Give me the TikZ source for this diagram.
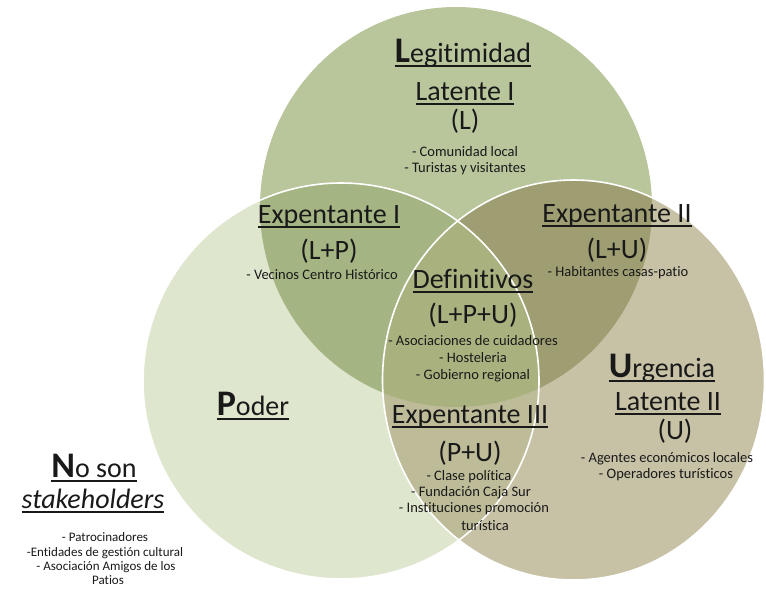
\documentclass[tikz,border=0pt]{standalone}
\usepackage{fontspec}
\setmainfont{Carlito}[Ligatures={NoCommon}]
\newsavebox\ulbox
\newcommand\myul[1]{\sbox\ulbox{#1}\rlap{\rule[-5pt]{\wd\ulbox}{1.8pt}}\usebox\ulbox}
\definecolor{Lcol}{RGB}{185,198,156}
\definecolor{Pcol}{RGB}{223,230,206}
\definecolor{Ucol}{RGB}{199,193,166}
\definecolor{LPcol}{RGB}{164,181,131}
\definecolor{LUcol}{RGB}{158,158,114}
\definecolor{PUcol}{RGB}{190,188,152}
\definecolor{LPUcol}{RGB}{169,178,127}
\definecolor{txt}{RGB}{25,25,25}
\tikzset{
  ttl/.style={anchor=base,inner sep=0pt,text=txt,font=\fontsize{28}{30}\selectfont},
  itm/.style={anchor=base,inner sep=0pt,text=txt,font=\fontsize{14.5}{16}\selectfont},
  itms/.style={anchor=base,inner sep=0pt,text=txt,font=\fontsize{13}{15}\selectfont},
}
\newcommand\bigini[1]{{\fontsize{36}{38}\selectfont\bfseries #1}}
\begin{document}
\begin{tikzpicture}[x=1pt,y=-1pt]
\useasboundingbox (0,0) rectangle (766,590);
\def\Lc{(456,207) ellipse[x radius=196pt,y radius=200pt]}
\def\Pc{(341,381) circle[radius=198pt]}
\def\Uc{(573.5,380) ellipse[x radius=191pt,y radius=200pt]}
\fill[Lcol] \Lc;
\fill[Pcol] \Pc;
\fill[Ucol] \Uc;
\begin{scope}\clip \Lc; \fill[LPcol] \Pc; \end{scope}
\begin{scope}\clip \Lc; \fill[LUcol] \Uc; \end{scope}
\begin{scope}\clip \Pc; \fill[PUcol] \Uc; \end{scope}
\begin{scope}\clip \Lc; \clip \Pc; \fill[LPUcol] \Uc; \end{scope}
\draw[white,line width=1.6pt] \Pc;
\draw[white,line width=1.6pt] \Uc;
% Legitimidad
\node[ttl] (leg) at (463,62) {\myul{\bigini{L}egitimidad}};
\node[ttl] (lat1) at (465,100) {\myul{Latente I}};
\node[ttl] (l) at (465,129) {(L)};
\node[itm] (l1) at (465,156.5) {- Comunidad local};
\node[itm] (l2) at (465,172.5) {- Turistas y visitantes};
% Expentante I
\node[ttl] (e1) at (329,223) {\myul{Expentante I}};
\node[ttl] (lp) at (329,259) {(L+P)};
\node[itm] (lp1) at (322,279.5) {- Vecinos Centro Histórico};
% Expentante II
\node[ttl] (e2) at (617,222) {\myul{Expentante II}};
\node[ttl] (lu) at (617,258) {(L+U)};
\node[itm] (lu1) at (618,276.5) {- Habitantes casas-patio};
% Definitivos
\node[ttl] (def) at (473,288) {\myul{Definitivos}};
\node[ttl] (lpu) at (473,323) {(L+P+U)};
\node[itm] (d1) at (473,345.5) {- Asociaciones de cuidadores};
\node[itm] (d2) at (473,362.5) {- Hosteleria};
\node[itm] (d3) at (473,379.5) {- Gobierno regional};
% Expentante III
\node[ttl] (e3) at (470,423) {\myul{Expentante III}};
\node[ttl] (pu) at (470,461) {(P+U)};
\node[itm] (p1) at (469,480.5) {- Clase política};
\node[itm] (p2) at (471,496.5) {- Fundación Caja Sur};
\node[itm] (p3) at (474,512.5) {- Instituciones promoción};
\node[itm] (p4) at (485,530.5) {turística};
% Urgencia
\node[ttl] (urg) at (662,377) {\myul{\bigini{U}rgencia}};
\node[ttl] (lat2) at (668,410) {\myul{Latente II}};
\node[ttl] (u) at (675,439) {(U)};
\node[itm] (u1) at (667,462.5) {- Agentes económicos locales};
\node[itm] (u2) at (666,478.5) {- Operadores turísticos};
% Poder
\node[ttl] (pod) at (253,415) {\myul{\bigini{P}oder}};
% No son
\node[ttl] (no) at (94,477) {\myul{\bigini{N}o son}};
\node[ttl] (sh) at (93,508) {\myul{\itshape stakeholders}};
\node[itms] (n1) at (105,541) {- Patrocinadores};
\node[itms] (n2) at (105,556) {-Entidades de gestión cultural};
\node[itms] (n3) at (106,570.5) {- Asociación Amigos de los};
\node[itms] (n4) at (108,584) {Patios};
\end{tikzpicture}
\end{document}
